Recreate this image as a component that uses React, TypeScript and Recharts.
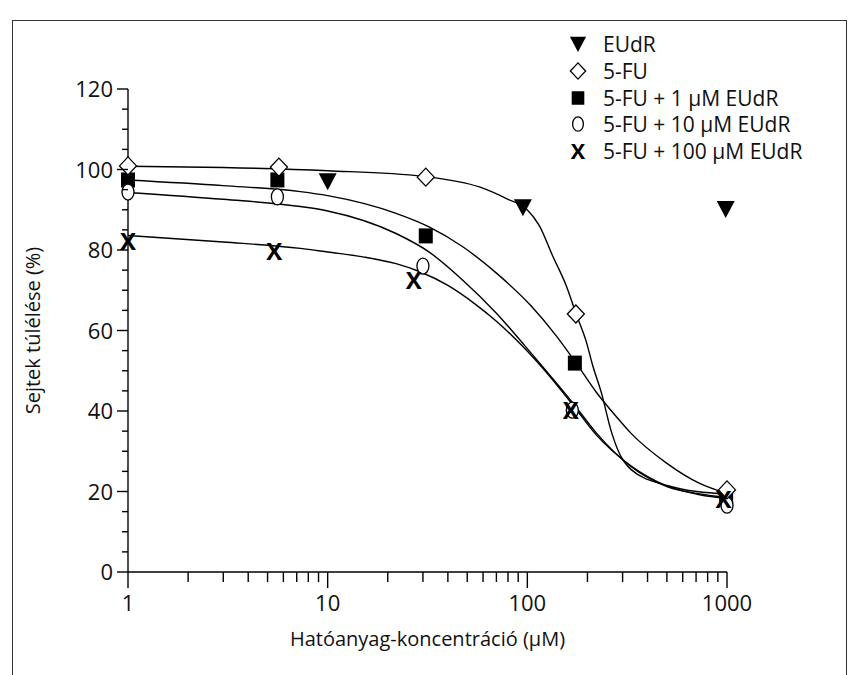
import React from 'react';
import { ComposedChart, Line, Scatter, XAxis, YAxis, Legend, Label } from 'recharts';

// measured points
const eudrPoints = [
  { x: 10, y: 97.1 },
  { x: 95, y: 90.6 },
  { x: 985, y: 90.2 },
];
const fuPoints = [
  { x: 1, y: 100.9 },
  { x: 5.7, y: 100.6 },
  { x: 31, y: 98.1 },
  { x: 175, y: 64.1 },
  { x: 1000, y: 20.4 },
];
const fu1Points = [
  { x: 1, y: 97.4 },
  { x: 5.6, y: 97.4 },
  { x: 31, y: 83.5 },
  { x: 173, y: 51.9 },
  { x: 990, y: 18.6 },
];
const fu10Points = [
  { x: 1, y: 94.4 },
  { x: 5.6, y: 93.2 },
  { x: 30, y: 76 },
  { x: 168, y: 40.2 },
  { x: 1000, y: 16.6 },
];
const fu100Points = [
  { x: 1, y: 82 },
  { x: 5.4, y: 79.7 },
  { x: 27, y: 72.5 },
  { x: 165, y: 40.2 },
  { x: 960, y: 17.9 },
];

// fitted curves
const fuCurve = [
  { x: 1, y: 100.8 }, { x: 3, y: 100.5 }, { x: 10, y: 99.7 }, { x: 30, y: 98.3 },
  { x: 58, y: 95.6 }, { x: 80, y: 92.6 }, { x: 99, y: 90.2 }, { x: 115, y: 86 },
  { x: 134, y: 78.5 }, { x: 157, y: 71 }, { x: 175, y: 64.3 }, { x: 198, y: 57 },
  { x: 212, y: 51.5 }, { x: 235, y: 44.5 }, { x: 263, y: 35 }, { x: 292, y: 29 },
  { x: 330, y: 25.5 }, { x: 500, y: 21.5 }, { x: 1000, y: 19.3 },
];
const fu1Curve = [
  { x: 1, y: 97.4 }, { x: 3, y: 96 }, { x: 7.3, y: 94.5 }, { x: 10, y: 93.5 },
  { x: 22, y: 89.1 }, { x: 32, y: 85.8 }, { x: 47.5, y: 80.8 }, { x: 71, y: 74 },
  { x: 104, y: 66.2 }, { x: 139, y: 58.8 }, { x: 175, y: 52 }, { x: 222, y: 44.6 },
  { x: 280, y: 38.5 }, { x: 330, y: 34.5 }, { x: 500, y: 27 }, { x: 730, y: 22 },
  { x: 1000, y: 19.5 },
];
const fu10Curve = [
  { x: 1, y: 94.3 }, { x: 3, y: 92.6 }, { x: 7.3, y: 90.8 }, { x: 10, y: 89.7 },
  { x: 22, y: 84.1 }, { x: 32, y: 79.6 }, { x: 47.5, y: 72.5 }, { x: 70, y: 64.3 },
  { x: 98, y: 56 }, { x: 169, y: 42 }, { x: 222, y: 34.5 }, { x: 330, y: 26.2 },
  { x: 500, y: 21.2 }, { x: 730, y: 19.4 }, { x: 1000, y: 18.5 },
];
const fu100Curve = [
  { x: 1, y: 83.6 }, { x: 3, y: 82 }, { x: 7.3, y: 80.4 }, { x: 10, y: 79.5 },
  { x: 15, y: 78.3 }, { x: 22, y: 76.6 }, { x: 29, y: 74.6 }, { x: 40, y: 71.2 },
  { x: 55, y: 66.5 }, { x: 70, y: 62.3 }, { x: 95, y: 56 }, { x: 130, y: 48.5 },
  { x: 169, y: 41.5 }, { x: 222, y: 34 }, { x: 330, y: 26.4 }, { x: 500, y: 21.4 },
  { x: 730, y: 19.2 }, { x: 1000, y: 18.3 },
];

const xTicks = [1, 2, 3, 4, 5, 6, 7, 8, 9, 10, 20, 30, 40, 50, 60, 70, 80, 90, 100, 200, 300, 400, 500, 600, 700, 800, 900, 1000];
const xLabels = [1, 10, 100, 1000];
const yTicks = [0, 5, 10, 15, 20, 25, 30, 35, 40, 45, 50, 55, 60, 65, 70, 75, 80, 85, 90, 95, 100, 105, 110, 115, 120];
const yLabels = [0, 20, 40, 60, 80, 100, 120];

const FONT = '"Open Sans", "Noto Sans", sans-serif';

const XTick = (props: any) => {
  const { x, y, payload } = props;
  const major = xLabels.includes(payload.value);
  return (
    <g>
      <line x1={x} y1={y} x2={x} y2={y + (major ? 16 : 10)} stroke="#000" strokeWidth={1.4} />
      {major && (
        <text x={x} y={y + 39} textAnchor="middle" fontSize={22} fontFamily={FONT} fill="#111">
          {payload.value}
        </text>
      )}
    </g>
  );
};

const YTick = (props: any) => {
  const { x, y, payload } = props;
  const major = yLabels.includes(payload.value);
  return (
    <g>
      <line x1={x - (major ? 11 : 6)} y1={y} x2={x} y2={y} stroke="#000" strokeWidth={1.4} />
      {major && (
        <text x={x - 15} y={y + 8} textAnchor="end" fontSize={22} fontFamily={FONT} fill="#111">
          {payload.value}
        </text>
      )}
    </g>
  );
};

const triangle = (cx: number, cy: number, s = 1) => (
  <polygon points={`${cx - 9 * s},${cy - 8 * s} ${cx + 9 * s},${cy - 8 * s} ${cx},${cy + 9 * s}`} fill="#000" />
);
const diamond = (cx: number, cy: number, s = 1) => (
  <polygon
    points={`${cx},${cy - 9 * s} ${cx + 8.5 * s},${cy} ${cx},${cy + 9 * s} ${cx - 8.5 * s},${cy}`}
    fill="#fff" stroke="#000" strokeWidth={1.3}
  />
);
const square = (cx: number, cy: number, s = 1) => (
  <rect x={cx - 7 * s} y={cy - 7.5 * s} width={14 * s} height={15 * s} fill="#000" />
);
const circle = (cx: number, cy: number, s = 1) => (
  <ellipse cx={cx} cy={cy} rx={6 * s} ry={8 * s} fill="#fff" stroke="#000" strokeWidth={1.3} />
);
const cross = (cx: number, cy: number, s = 1) => (
  <text x={cx} y={cy + 8.5 * s} textAnchor="middle" fontSize={24 * s} fontWeight={700} fontFamily={FONT} fill="#000">
    X
  </text>
);

const legendItems = [
  { name: 'EUdR', icon: triangle },
  { name: '5-FU', icon: diamond },
  { name: '5-FU + 1 µM EUdR', icon: square },
  { name: '5-FU + 10 µM EUdR', icon: circle },
  { name: '5-FU + 100 µM EUdR', icon: cross },
];

const LegendBox = () => (
  <div style={{ fontFamily: FONT, fontSize: 21, color: '#111' }}>
    {legendItems.map((it) => (
      <div key={it.name} style={{ display: 'flex', alignItems: 'center', height: 26.7, whiteSpace: 'nowrap' }}>
        <svg width={24} height={26} style={{ marginRight: 13, overflow: 'visible' }}>
          {it.icon(12, 13, 0.9)}
        </svg>
        <span>{it.name}</span>
      </div>
    ))}
  </div>
);

const shapeOf = (fn: (cx: number, cy: number) => React.ReactElement) => (p: any) => fn(p.cx, p.cy);

export default function App() {
  return (
    <div style={{ position: 'absolute', left: 0, top: 0, width: 848, height: 675, overflow: 'hidden', background: '#fff' }}>
      <div
        style={{
          position: 'absolute', left: 12, top: 20, width: 833, height: 700,
          borderLeft: '1.5px solid #333', borderTop: '1.5px solid #333', borderRight: '1.5px solid #333',
        }}
      />
      <ComposedChart width={848} height={675} margin={{ top: 89, right: 121, bottom: 23, left: 28 }}>
        <XAxis
          type="number" dataKey="x" scale="log" domain={[1, 1000]} ticks={xTicks} interval={0}
          tickSize={0} tickMargin={0} tick={<XTick />} height={80}
          axisLine={{ stroke: '#000', strokeWidth: 1.4 }}
        >
          <Label value="Hatóanyag-koncentráció (µM)" position="insideBottom" offset={6}
            style={{ fontFamily: FONT, fontSize: 20, fill: '#111' }} />
        </XAxis>
        <YAxis
          type="number" dataKey="y" domain={[0, 120]} ticks={yTicks} interval={0}
          tickSize={0} tickMargin={0} tick={<YTick />} width={100}
          axisLine={{ stroke: '#000', strokeWidth: 1.4 }}
        >
          <Label value="Sejtek túlélése (%)" angle={-90} position="insideLeft" offset={5}
            style={{ fontFamily: FONT, fontSize: 20, fill: '#111', textAnchor: 'middle' }} />
        </YAxis>
        <Legend
          layout="vertical" align="center" verticalAlign="middle"
          wrapperStyle={{ top: 31, left: 566, width: 275 }}
          content={() => <LegendBox />}
        />
        <Line data={fuCurve} dataKey="y" type="monotone" stroke="#000" strokeWidth={1.4} dot={false} isAnimationActive={false} legendType="none" />
        <Line data={fu1Curve} dataKey="y" type="monotone" stroke="#000" strokeWidth={1.4} dot={false} isAnimationActive={false} legendType="none" />
        <Line data={fu10Curve} dataKey="y" type="monotone" stroke="#000" strokeWidth={1.4} dot={false} isAnimationActive={false} legendType="none" />
        <Line data={fu100Curve} dataKey="y" type="monotone" stroke="#000" strokeWidth={1.4} dot={false} isAnimationActive={false} legendType="none" />
        <Scatter name="EUdR" data={eudrPoints} dataKey="y" shape={shapeOf(triangle)} isAnimationActive={false} />
        <Scatter name="5-FU + 1 µM EUdR" data={fu1Points} dataKey="y" shape={shapeOf(square)} isAnimationActive={false} />
        <Scatter name="5-FU + 10 µM EUdR" data={fu10Points} dataKey="y" shape={shapeOf(circle)} isAnimationActive={false} />
        <Scatter name="5-FU" data={fuPoints} dataKey="y" shape={shapeOf(diamond)} isAnimationActive={false} />
        <Scatter name="5-FU + 100 µM EUdR" data={fu100Points} dataKey="y" shape={shapeOf(cross)} isAnimationActive={false} />
      </ComposedChart>
    </div>
  );
}
